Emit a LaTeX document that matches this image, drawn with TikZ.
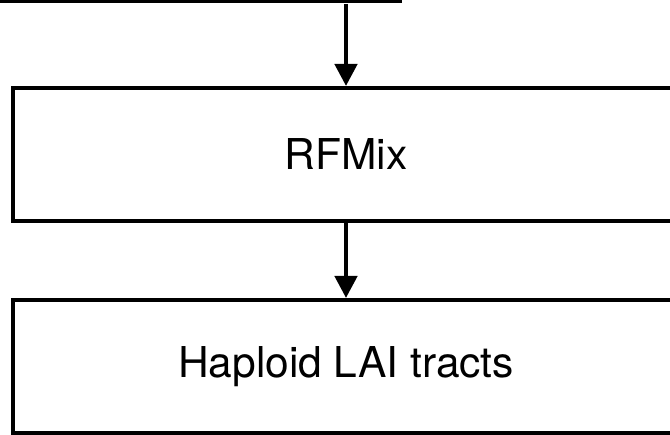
\documentclass[tikz,border=0pt]{standalone}
\usepackage{fontspec}
\setmainfont{TeX Gyre Heros}
\usetikzlibrary{arrows.meta}
\begin{document}
\begin{tikzpicture}[x=1pt,y=-1pt,
  stagebox/.style={draw=black, line width=4pt, rectangle, inner sep=0pt, outer sep=0pt,
    font=\fontsize{42.5}{50}\selectfont},
  flowarrow/.style={line width=4.5pt, -{Triangle[width=22pt,length=22pt]}}]
\useasboundingbox (0,0) rectangle (670,435);
\clip (0,0) rectangle (670,435);
\node[stagebox, minimum width=700pt, minimum height=200pt] (top) at (50,-99) {};
\node[stagebox, minimum width=666pt, minimum height=133pt] (rfmix) at (346,154.5) {RFMix};
\node[stagebox, minimum width=666pt, minimum height=133pt] (haplo) at (346,366.5) {Haploid LAI tracts};
\draw[flowarrow] (top.south -| rfmix.north) ++(0,3) -- ([yshift=2pt]rfmix.north);
\draw[flowarrow] (rfmix.south) -- ([yshift=2pt]haplo.north);
\end{tikzpicture}
\end{document}
